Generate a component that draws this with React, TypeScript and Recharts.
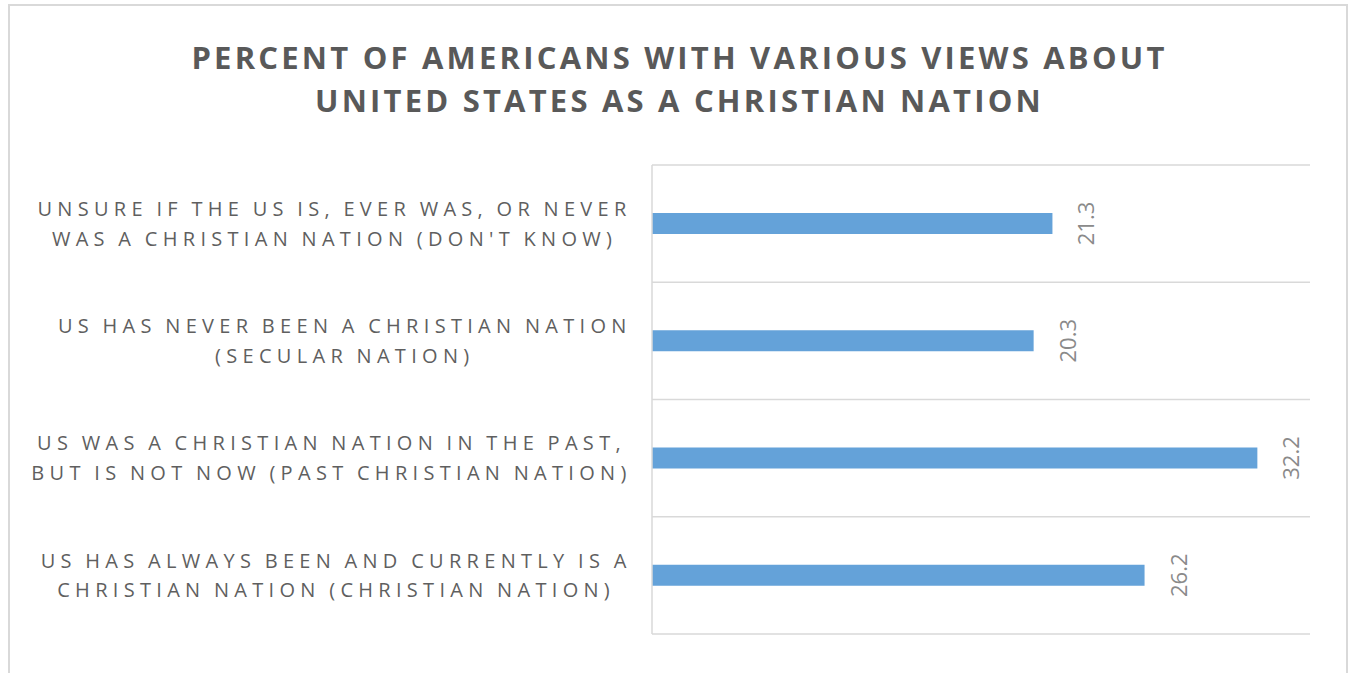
import { BarChart, Bar, XAxis, YAxis, CartesianGrid, LabelList } from "recharts";

const titleLines = [
  "PERCENT OF AMERICANS WITH VARIOUS VIEWS ABOUT",
  "UNITED STATES AS A CHRISTIAN NATION",
];

// category labels, top to bottom, already split into the two lines shown
const categoryLines = [
  ["UNSURE IF THE US IS, EVER WAS, OR NEVER", "WAS A CHRISTIAN NATION (DON'T KNOW)"],
  ["US HAS NEVER BEEN A CHRISTIAN NATION", "(SECULAR NATION)"],
  ["US WAS A CHRISTIAN NATION IN THE PAST,", "BUT IS NOT NOW (PAST CHRISTIAN NATION)"],
  ["US HAS ALWAYS BEEN AND CURRENTLY IS A", "CHRISTIAN NATION (CHRISTIAN NATION)"],
];

const percents = [21.3, 20.3, 32.2, 26.2];

const data = categoryLines.map((lines, i) => ({
  name: lines.join(" "),
  value: percents[i],
}));

const FONT = "'Open Sans', sans-serif";
const LABEL_SIZE = 20;
const LABEL_SPACING = 5.3;
const WORD_SPACING = -2;
const GRID = "#d9d9d9";

let canvas: HTMLCanvasElement | null = null;
function textWidth(str: string) {
  if (!canvas) canvas = document.createElement("canvas");
  const ctx = canvas.getContext("2d")!;
  ctx.font = `${LABEL_SIZE}px 'Open Sans'`;
  const spaces = str.split(" ").length - 1;
  return ctx.measureText(str).width + LABEL_SPACING * str.length + WORD_SPACING * spaces;
}

function CategoryTick(props: any) {
  const { x, y, payload } = props;
  const row = data.findIndex((d) => d.name === payload.value);
  const lines = categoryLines[row] ?? [String(payload.value)];
  const widest = Math.max(...lines.map(textWidth));
  const cx = x - widest / 2;
  return (
    <g>
      {lines.map((line, i) => (
        <text
          key={i}
          x={cx + LABEL_SPACING / 2}
          y={y - 7.7 + i * 29.8}
          textAnchor="middle"
          fill="#5f5f5f"
          style={{ fontFamily: FONT, fontSize: LABEL_SIZE, letterSpacing: LABEL_SPACING, wordSpacing: WORD_SPACING }}
        >
          {line}
        </text>
      ))}
    </g>
  );
}

function ValueLabel(props: any) {
  const { x, y, width, height, value } = props;
  const cx = x + width + 33;
  const cy = y + height / 2;
  return (
    <text
      x={cx}
      y={cy}
      transform={`rotate(-90, ${cx}, ${cy})`}
      textAnchor="middle"
      dominantBaseline="central"
      fill="#8a8a8a"
      style={{ fontFamily: FONT, fontSize: 22 }}
    >
      {Number(value).toFixed(1)}
    </text>
  );
}

export default function App() {
  return (
    <div style={{ position: "absolute", left: 0, top: 0, width: 1353, height: 673, background: "#fff", overflow: "hidden" }}>
      <svg width={1353} height={673} style={{ position: "absolute", left: 0, top: 0 }}>
        <rect x={9} y={5} width={1338} height={700} fill="#fff" stroke={GRID} strokeWidth={2} />
        {titleLines.map((t, i) => (
          <text
            key={i}
            x={679.5}
            y={69.3 + i * 42.4}
            textAnchor="middle"
            fill="#595959"
            style={{ fontFamily: FONT, fontSize: 31, fontWeight: 700, letterSpacing: 3.2 }}
          >
            {t}
          </text>
        ))}
      </svg>
      <div style={{ position: "absolute", left: 0, top: 0 }}>
        <BarChart
          width={1353}
          height={673}
          data={data}
          layout="vertical"
          margin={{ top: 165, right: 43, bottom: 39, left: 0 }}
        >
          <CartesianGrid
            vertical={false}
            stroke={GRID}
            strokeWidth={1.5}
            horizontalCoordinatesGenerator={({ offset }: any) =>
              Array.from({ length: data.length + 1 }, (_, i) => offset.top + (offset.height * i) / data.length)
            }
          />
          <XAxis type="number" domain={[0, 35]} hide />
          <YAxis
            type="category"
            dataKey="name"
            width={652}
            tickLine={false}
            tickSize={0}
            tickMargin={23}
            axisLine={{ stroke: GRID, strokeWidth: 1.5 }}
            tick={<CategoryTick />}
            interval={0}
          />
          <Bar dataKey="value" fill="#64a2d9" barSize={21} isAnimationActive={false}>
            <LabelList dataKey="value" content={<ValueLabel />} />
          </Bar>
        </BarChart>
      </div>
    </div>
  );
}
